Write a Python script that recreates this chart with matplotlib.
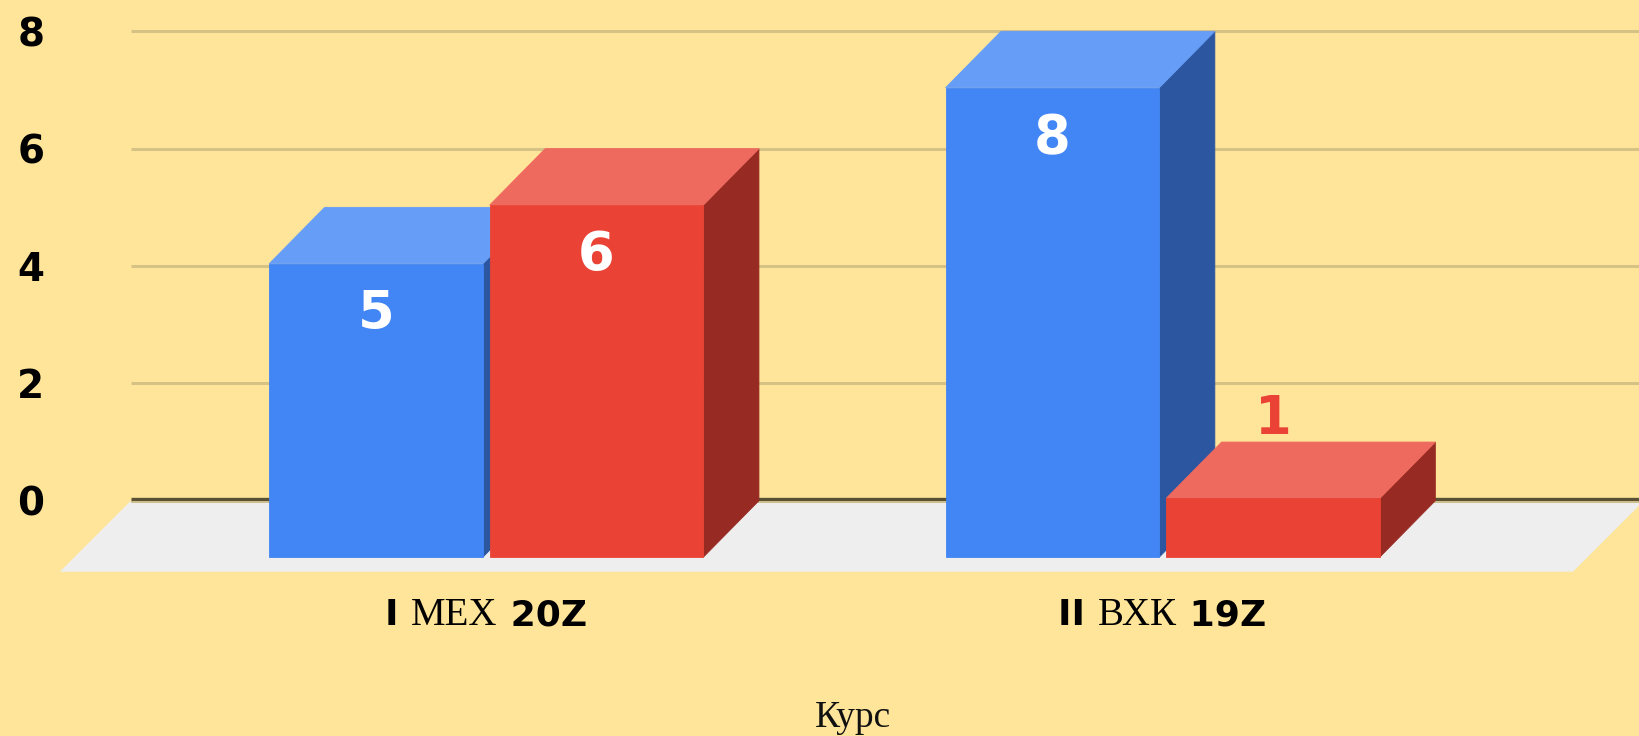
import matplotlib.pyplot as plt
from matplotlib.patches import Polygon

# chart data
course_num = ["I", "II"]
course_name = ["МЕХ", "ВХК"]
course_year = ["20Z", "19Z"]
series_blue = [5, 8]
series_red = [6, 1]
y_ticks = [0, 2, 4, 6, 8]

BG = "#ffe599"
FLOOR = "#eeeeee"
GRID = "#d6c285"
ZERO = "#5a5033"
BLUE = ("#4285f4", "#669df6", "#2c56a0")  # front, top, side
RED = ("#ea4335", "#ee6a5e", "#982a24")

BAR_W = 0.316
DX, DY = 0.082, 0.96  # depth of the bars
FLOOR_DX, FLOOR_DY = 0.105, 1.21
BOLD = dict(family="DejaVu Sans", fontweight="bold")


def draw_bar(ax, x0, v, colors):
    front, top, side = colors
    w = BAR_W
    ax.add_patch(Polygon([(x0 + w, -DY), (x0 + w + DX, 0), (x0 + w + DX, v), (x0 + w, v - DY)],
                         closed=True, fc=side, ec=side, lw=0.6, zorder=3))
    ax.add_patch(Polygon([(x0, v - DY), (x0 + w, v - DY), (x0 + w + DX, v), (x0 + DX, v)],
                         closed=True, fc=top, ec=top, lw=0.6, zorder=3))
    ax.add_patch(Polygon([(x0, -DY), (x0 + w, -DY), (x0 + w, v - DY), (x0, v - DY)],
                         closed=True, fc=front, ec=front, lw=0.6, zorder=3))
    xc = x0 + w / 2
    if v > 2:
        ax.text(xc, v - DY - 0.86, str(v), ha="center", va="center", color="white",
                fontsize=38, zorder=5, **BOLD)
    else:
        ax.text(xc, v + 0.40, str(v), ha="center", va="center", color=front,
                fontsize=38, zorder=5, **BOLD)


fig = plt.figure(figsize=(16.39, 7.36), dpi=100, facecolor=BG)
W, H = 1639, 736
ax = fig.add_axes([50 / W, (H - 580) / H, 1589 / W, 580 / H])
ax.set_facecolor(BG)
ax.set_xlim(-0.6446, 1.7046)
ax.set_ylim(-1.351, 8.534)
for s in ax.spines.values():
    s.set_visible(False)
ax.set_xticks([])
ax.set_yticks(y_ticks)
ax.set_yticklabels([str(t) for t in y_ticks], fontsize=28, **BOLD)
ax.tick_params(axis="y", length=0, pad=4)

# floor
x_left, floor_right, grid_right = -0.525, 1.712, 1.75
ax.add_patch(Polygon([(x_left, 0), (floor_right, 0), (floor_right - FLOOR_DX, -FLOOR_DY),
                      (x_left - FLOOR_DX, -FLOOR_DY)], closed=True, fc=FLOOR, ec="none", zorder=1))

# gridlines on the back wall
for t in y_ticks:
    if t == 0:
        ax.plot([x_left, grid_right], [0.03, 0.03], color=ZERO, lw=2.4, zorder=2, solid_capstyle="butt")
        ax.plot([x_left, grid_right], [-0.03, -0.03], color="#cdbd8c", lw=1.4, zorder=2, solid_capstyle="butt")
    else:
        ax.plot([x_left, grid_right], [t, t], color=GRID, lw=2.2, zorder=2, solid_capstyle="butt")

for i in range(len(course_num)):
    draw_bar(ax, i - 0.3205, series_blue[i], BLUE)
    draw_bar(ax, i + 0.0055, series_red[i], RED)

# category labels, mixed fonts
renderer = fig.canvas.get_renderer()
serif = dict(family="Liberation Serif")
baseline = (H - 625) / H
for i in range(len(course_num)):
    parts = [(course_num[i] + " ", dict(fontsize=26, **BOLD)),
             (course_name[i], dict(fontsize=28, **serif)),
             (" " + course_year[i], dict(fontsize=26, **BOLD))]
    texts = [fig.text(0, baseline, s, ha="left", va="baseline", color="black", **p) for s, p in parts]
    widths = [t.get_window_extent(renderer).width for t in texts]
    xc = ax.transData.transform((i, 0))[0]
    x = xc - sum(widths) / 2
    for t, w in zip(texts, widths):
        t.set_x(x / W)
        x += w

fig.text(853 / W, 9 / H, "Курс", ha="center", va="baseline", fontsize=27, color="#111111", **serif)

fig.savefig("out.png", dpi=100, facecolor=BG)
